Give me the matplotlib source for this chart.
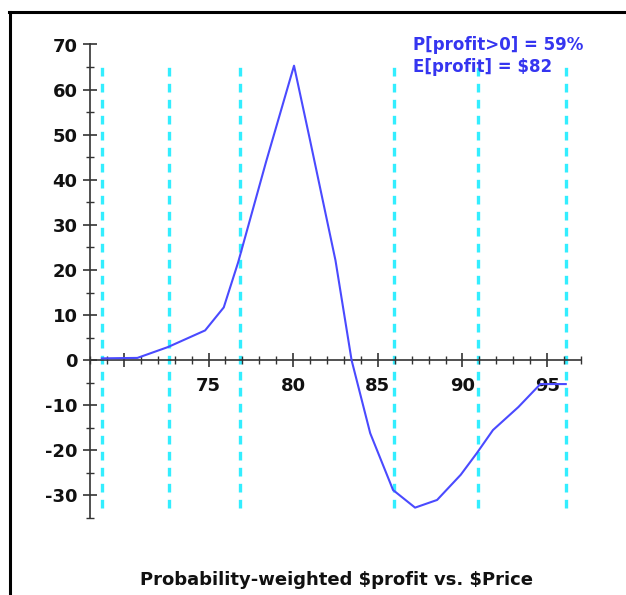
import matplotlib.pyplot as plt
from matplotlib.lines import Line2D
import numpy as np

plt.rcParams['font.family'] = ['DejaVu Sans']
plt.rcParams['axes.unicode_minus'] = False

# Data
price = [68.7, 70.8, 72.6, 74.8, 75.9, 76.75, 78.4, 80.05, 81.0, 82.5, 83.45,
         84.55, 85.9, 87.2, 88.5, 89.9, 90.85, 91.8, 93.3, 94.6, 96.1]
profit = [0.4, 0.5, 2.9, 6.6, 11.7, 21.7, 44.0, 65.3, 48.7, 22.1, 0.0,
          -16.2, -28.8, -32.7, -31.0, -25.4, -20.6, -15.5, -10.4, -5.3, -5.3]
grid_x = [68.7, 72.65, 76.85, 85.95, 90.9, 96.1]
xticks_major = [70, 75, 80, 85, 90, 95]
xtick_labels = ['', '75', '80', '85', '90', '95']
yticks_major = [-30, -20, -10, 0, 10, 20, 30, 40, 50, 60, 70]
stats = ['P[profit>0] = 59%', 'E[profit] = $82']
title = r'Probability-weighted \$profit vs. \$Price'

W, H = 626, 595
fig = plt.figure(figsize=(W / 100, H / 100), dpi=100)
ax = fig.add_axes([90 / W, 77 / H, (581 - 90) / W, (550.5 - 77) / H])

ax.set_xlim(68, 97)
ax.set_ylim(-35, 70)

# cyan dotted markers span the range of the curve
ymin, ymax = min(profit), max(profit)
for gx in grid_x:
    ax.plot([gx, gx], [ymin, ymax], color='#33eeff', lw=2.4,
            linestyle=(0, (2.6, 2.2)), zorder=1, solid_capstyle='butt')

ax.plot(price, profit, color='#4a4aff', lw=1.5, zorder=3)

# axes through the origin / left edge
for s in ['top', 'right']:
    ax.spines[s].set_visible(False)
ax.spines['bottom'].set_position(('data', 0))
ax.spines['left'].set_position(('data', 68))
for s in ['bottom', 'left']:
    ax.spines[s].set_color('#333333')
    ax.spines[s].set_linewidth(1.2)

ax.set_xticks(xticks_major)
ax.set_xticklabels(xtick_labels)
ax.set_xticks(np.arange(68, 98, 1), minor=True)
ax.set_yticks(yticks_major)
ax.set_yticks(np.arange(-35, 71, 5), minor=True)

ax.tick_params(which='major', direction='inout', length=10, width=1.2,
               color='#333333', labelsize=13, labelcolor='#111111')
ax.tick_params(which='minor', direction='inout', length=6, width=1.0,
               color='#333333')
ax.tick_params(axis='x', which='major', pad=7)
ax.tick_params(axis='y', which='major', pad=4)
for lab in ax.get_xticklabels() + ax.get_yticklabels():
    lab.set_fontweight('bold')

# stats text, top right
for i, s in enumerate(stats):
    fig.text(413 / W, 1 - (50 + 22 * i) / H, s, color='#3535f0',
             fontsize=12, fontweight='bold', ha='left', va='baseline')

fig.text(336 / W, 1 - 585 / H, title, fontsize=13, fontweight='bold',
         ha='center', va='baseline', color='#111111')

# frame lines (left and top edges visible)
fig.add_artist(Line2D([9.5 / W, 9.5 / W], [0, 1 - 12 / H],
                      transform=fig.transFigure, color='black', lw=2.2))
fig.add_artist(Line2D([8.5 / W, 1], [1 - 12 / H, 1 - 12 / H],
                      transform=fig.transFigure, color='black', lw=2.2))

fig.savefig('out.png', dpi=100)
